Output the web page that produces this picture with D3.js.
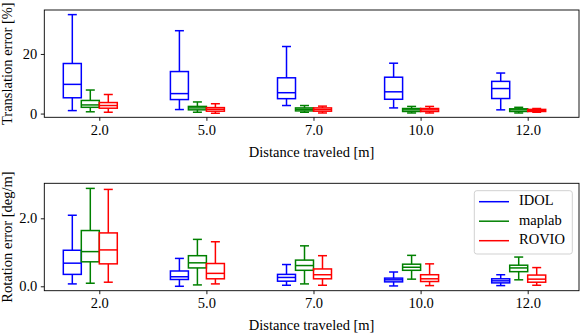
<!DOCTYPE html>
<html>
<head>
<meta charset="utf-8">
<script src="https://cdn.jsdelivr.net/npm/d3@7"></script>
<style>
  html, body { margin: 0; padding: 0; background: #fff; }
  svg { display: block; }
  svg text { font-family: "Liberation Serif", "Times New Roman", serif !important; fill: #000; }
</style>
</head>
<body>
<svg id="chart" width="581" height="334"></svg>
<script>
// ---- data (each entry: [whiskerLow, q1, median, q3, whiskerHigh]) ----
const distances = ["2.0", "5.0", "7.0", "10.0", "12.0"];
const seriesNames = ["IDOL", "maplab", "ROVIO"];
const seriesColors = ["#0000ff", "#008000", "#ff0000"];

const transIDOL = [
  [1.0, 5.3, 9.8, 16.8, 33.2],
  [1.35, 4.7, 6.7, 14.1, 27.8],
  [2.7, 5.0, 7.0, 12.0, 22.5],
  [1.9, 4.8, 7.3, 12.2, 16.9],
  [1.25, 5.05, 8.4, 10.8, 13.6]
];
const transMaplab = [
  [0.6, 2.1, 2.9, 4.4, 7.9],
  [0.45, 1.25, 1.9, 2.4, 3.9],
  [0.45, 0.9, 1.45, 1.9, 2.7],
  [0.2, 0.7, 1.25, 1.7, 2.4],
  [0.2, 0.7, 1.25, 1.6, 2.1]
];
const transROVIO = [
  [0.45, 1.8, 2.7, 3.7, 6.4],
  [0.1, 0.8, 1.45, 2.0, 3.3],
  [0.2, 0.8, 1.35, 1.9, 2.5],
  [0.2, 0.7, 1.25, 1.7, 2.4],
  [0.45, 0.7, 1.1, 1.4, 1.7]
];

const rotIDOL = [
  [0.07, 0.35, 0.68, 1.06, 2.09],
  [0.0, 0.2, 0.28, 0.45, 0.82],
  [0.03, 0.15, 0.26, 0.35, 0.64],
  [0.01, 0.13, 0.19, 0.24, 0.42],
  [0.02, 0.1, 0.16, 0.22, 0.34]
];
const rotMaplab = [
  [0.09, 0.72, 1.02, 1.64, 2.88],
  [0.04, 0.54, 0.69, 0.9, 1.38],
  [0.07, 0.47, 0.61, 0.77, 1.19],
  [0.21, 0.47, 0.56, 0.65, 0.91],
  [0.19, 0.43, 0.54, 0.62, 0.86]
];
const rotROVIO = [
  [0.12, 0.66, 1.07, 1.57, 2.85],
  [0.07, 0.22, 0.38, 0.67, 1.31],
  [0.03, 0.22, 0.34, 0.51, 0.9],
  [0.02, 0.14, 0.22, 0.34, 0.66],
  [0.03, 0.12, 0.21, 0.33, 0.55]
];

const transTicks = [0, 20];
const rotTicks = [0, 2];
const xLabel = "Distance traveled [m]";
const transLabel = "Translation error [%]";
const rotLabel = "Rotation error [deg/m]";

// ---- layout ----
const FS = 14.5;
const svg = d3.select("#chart");
const left = 44.3, right = 579;
const boxOffsets = [-0.252, -0.084, 0.084];
const boxWidth = 0.168;

const x = d3.scaleLinear().domain([0.4865, 5.479]).range([left, right]);

function panel(top, bottom, yDomain, yTicks, data, yLabelText) {
  const y = d3.scaleLinear().domain(yDomain).range([bottom, top]);
  const g = svg.append("g");

  data.forEach((series, si) => {
    const color = seriesColors[si];
    series.forEach((d, i) => {
      const cx = (i + 1) + boxOffsets[si];
      const x0 = x(cx - boxWidth / 2), x1 = x(cx + boxWidth / 2);
      const c0 = x(cx - boxWidth / 4), c1 = x(cx + boxWidth / 4);
      const xc = x(cx);
      const bg = g.append("g").attr("stroke", color).attr("stroke-width", 1.5).attr("fill", "none");
      bg.append("line").attr("x1", xc).attr("x2", xc).attr("y1", y(d[0])).attr("y2", y(d[1]));
      bg.append("line").attr("x1", xc).attr("x2", xc).attr("y1", y(d[3])).attr("y2", y(d[4]));
      bg.append("line").attr("x1", c0).attr("x2", c1).attr("y1", y(d[0])).attr("y2", y(d[0]));
      bg.append("line").attr("x1", c0).attr("x2", c1).attr("y1", y(d[4])).attr("y2", y(d[4]));
      bg.append("rect").attr("x", x0).attr("y", y(d[3]))
        .attr("width", x1 - x0).attr("height", y(d[1]) - y(d[3]));
      bg.append("line").attr("x1", x0).attr("x2", x1).attr("y1", y(d[2])).attr("y2", y(d[2]));
    });
  });

  g.append("rect").attr("x", left).attr("y", top).attr("width", right - left).attr("height", bottom - top)
    .attr("fill", "none").attr("stroke", "#000").attr("stroke-width", 0.9);

  const xAxis = d3.axisBottom(x).tickValues([1, 2, 3, 4, 5])
    .tickFormat((d, i) => distances[i]).tickSize(3.5).tickSizeOuter(0).tickPadding(3.5);
  const xa = g.append("g").attr("transform", `translate(0,${bottom})`).call(xAxis);
  xa.select(".domain").remove();
  xa.attr("font-size", FS).attr("font-family", null);
  xa.selectAll("line").attr("stroke", "#000").attr("stroke-width", 0.9);

  const yAxis = d3.axisLeft(y).tickValues(yTicks).tickSize(3.5).tickSizeOuter(0).tickPadding(3.5);
  const ya = g.append("g").attr("transform", `translate(${left},0)`).call(yAxis);
  ya.select(".domain").remove();
  ya.attr("font-size", FS).attr("font-family", null);
  ya.selectAll("line").attr("stroke", "#000").attr("stroke-width", 0.9);

  g.append("text").attr("x", (left + right) / 2).attr("y", bottom + 39.5)
    .attr("text-anchor", "middle").attr("font-size", FS).text(xLabel);
  g.append("text").attr("transform", `translate(9,${(top + bottom) / 2}) rotate(-90)`)
    .attr("text-anchor", "middle").attr("dominant-baseline", "middle").attr("font-size", FS).text(yLabelText);
  return y;
}

panel(10, 117.3, [-1.25, 34.75], transTicks, [transIDOL, transMaplab, transROVIO], transLabel);
panel(183.3, 290.7, [-0.13, 3.03], rotTicks, [rotIDOL, rotMaplab, rotROVIO], rotLabel);

const lg = svg.append("g");
lg.append("rect").attr("x", 474.3).attr("y", 190.7).attr("width", 98).attr("height", 63.3)
  .attr("rx", 2.5).attr("fill", "rgba(255,255,255,0.8)").attr("stroke", "#cccccc").attr("stroke-width", 0.9);
seriesNames.forEach((name, i) => {
  const yy = 201.7 + i * 19.5;
  lg.append("line").attr("x1", 479).attr("x2", 509).attr("y1", yy).attr("y2", yy)
    .attr("stroke", seriesColors[i]).attr("stroke-width", 1.5);
  lg.append("text").attr("x", 519).attr("y", yy).attr("dominant-baseline", "middle")
    .attr("font-size", FS).text(name);
});
</script>
</body>
</html>
